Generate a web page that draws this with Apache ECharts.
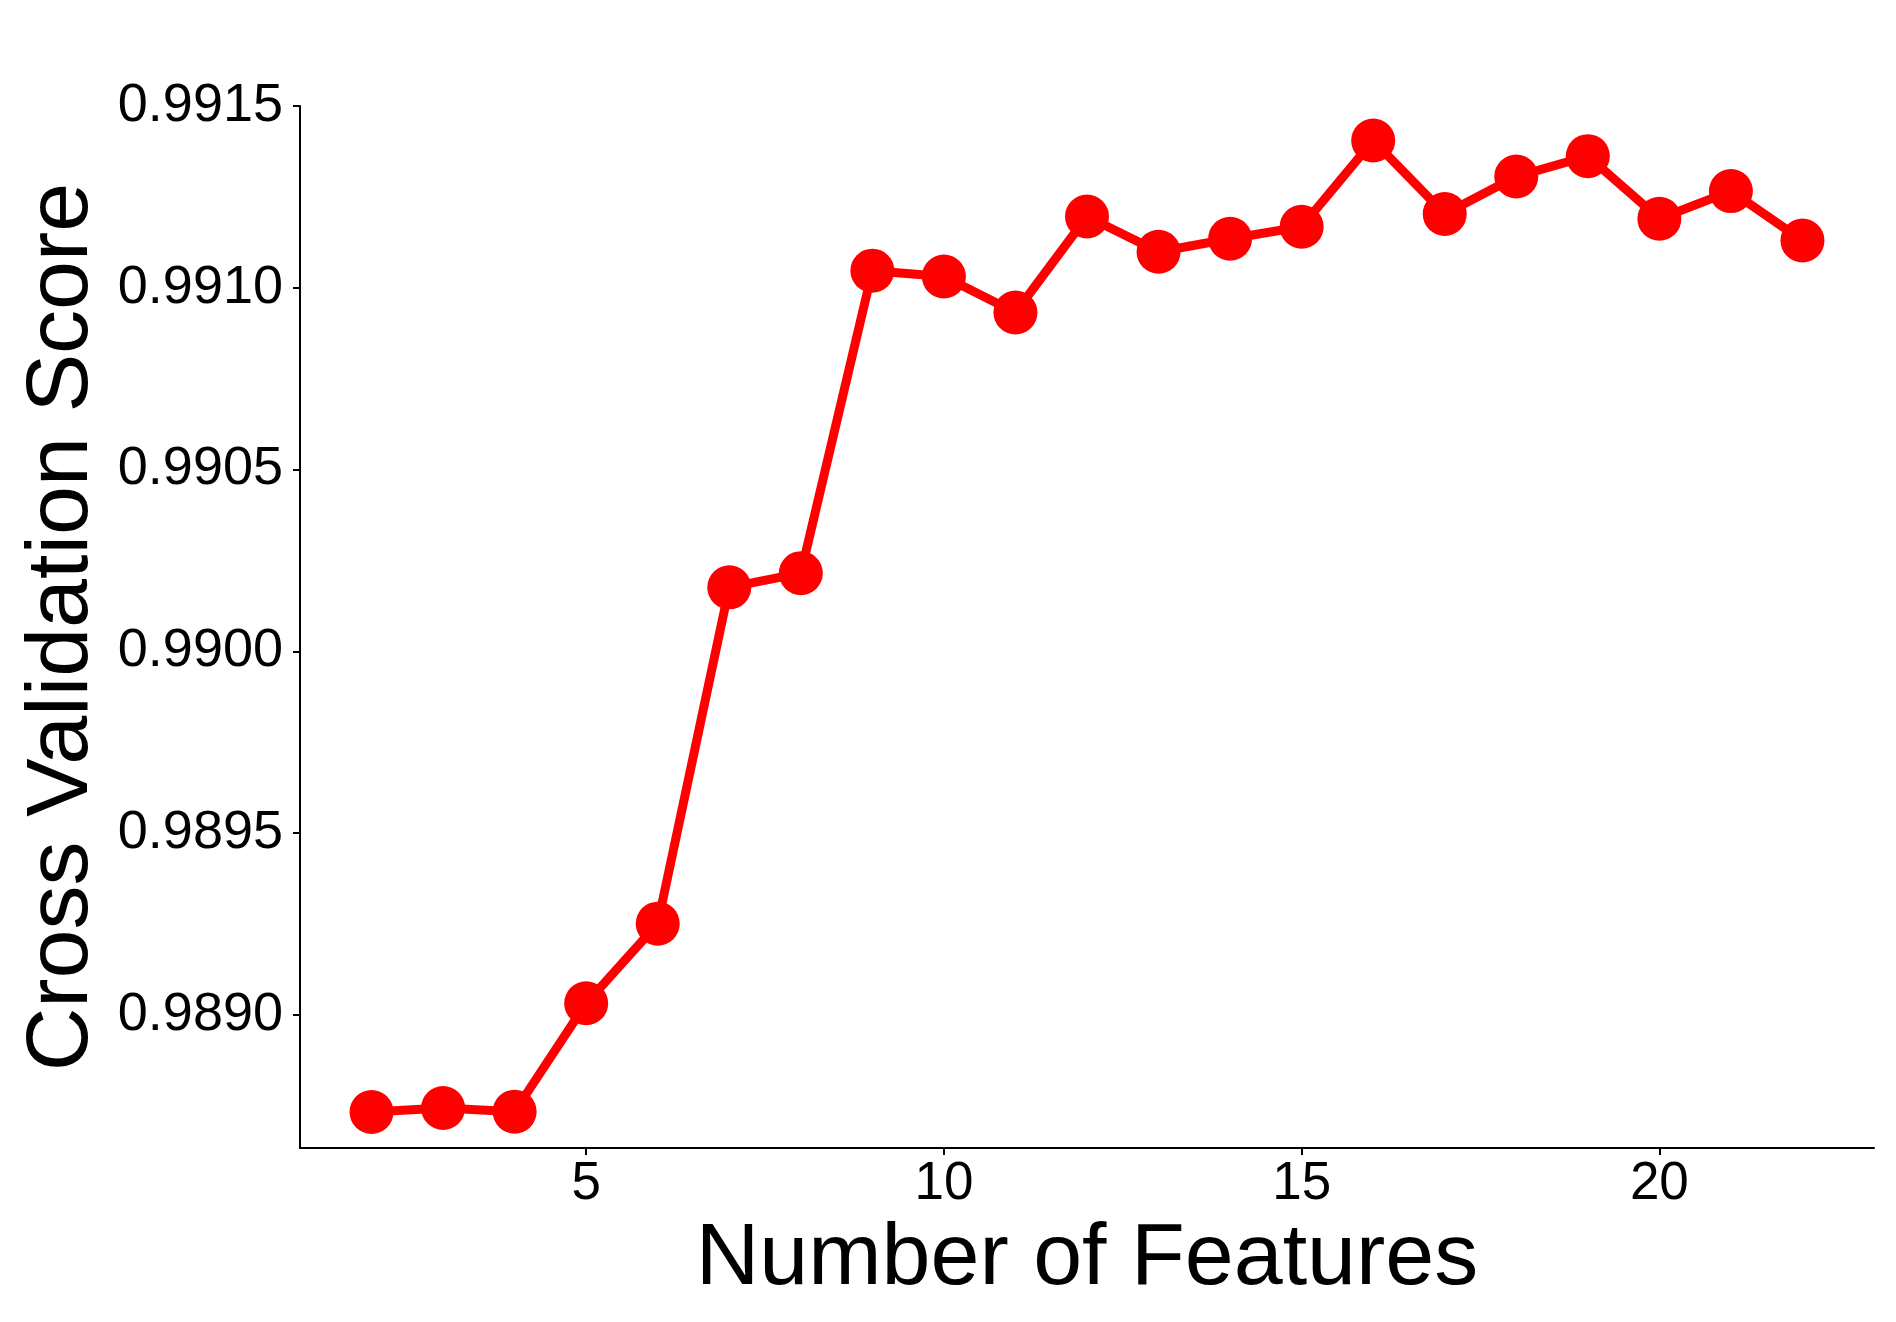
<!DOCTYPE html>
<html>
<head>
<meta charset="utf-8">
<script src="https://cdn.jsdelivr.net/npm/echarts@6/dist/echarts.min.js"></script>
<style>
html,body{margin:0;padding:0;background:#fff;}
#chart{width:1896px;height:1322px;}
</style>
</head>
<body>
<div id="chart"></div>
<script>
const featureCounts = [2,3,4,5,6,7,8,9,10,11,12,13,14,15,16,17,18,19,20,21,22];
const cvScores = [0.988733,0.988744,0.988734,0.989032,0.989251,0.990176,0.990215,0.991047,0.991031,0.990932,0.991196,0.991099,0.991135,0.991168,0.991405,0.991203,0.991306,0.991362,0.991190,0.991266,0.991130];
const xTicks = [5,10,15,20];
const yTicks = [0.9890,0.9895,0.9900,0.9905,0.9910,0.9915];

const font = '"Liberation Sans", Arial, sans-serif';
const chart = echarts.init(document.getElementById('chart'));
chart.setOption({
  animation: false,
  backgroundColor: '#ffffff',
  grid: {left: 300, right: 22, top: 106, bottom: 174, containLabel: false},
  xAxis: {
    type: 'value', min: 1, max: 23,
    name: 'Number of Features', nameLocation: 'middle', nameGap: 66,
    nameTextStyle: {fontSize: 88, color: '#000', fontFamily: font},
    axisLine: {show: true, onZero: false, lineStyle: {color: '#000', width: 2}},
    axisTick: {show: true, length: 7, lineStyle: {color: '#000', width: 2}, customValues: xTicks},
    axisLabel: {fontSize: 53, color: '#000', fontFamily: font, margin: 10, customValues: xTicks},
    splitLine: {show: false}
  },
  yAxis: {
    type: 'value', min: 0.988634, max: 0.9915,
    name: 'Cross Validation Score', nameLocation: 'middle', nameGap: 190,
    nameTextStyle: {fontSize: 88, color: '#000', fontFamily: font},
    axisLine: {show: true, lineStyle: {color: '#000', width: 2}},
    axisTick: {show: true, length: 7, lineStyle: {color: '#000', width: 2}, customValues: yTicks},
    axisLabel: {fontSize: 54, color: '#000', fontFamily: font, margin: 17, customValues: yTicks,
      padding: [6, 0, 0, 0],
      formatter: v => v.toFixed(4)},
    splitLine: {show: false}
  },
  series: [{
    type: 'line',
    data: featureCounts.map((x, i) => [x, cvScores[i]]),
    symbol: 'circle', symbolSize: 44,
    lineStyle: {color: '#ff0000', width: 9},
    itemStyle: {color: '#ff0000'},
    z: 3
  }]
});
</script>
</body>
</html>
